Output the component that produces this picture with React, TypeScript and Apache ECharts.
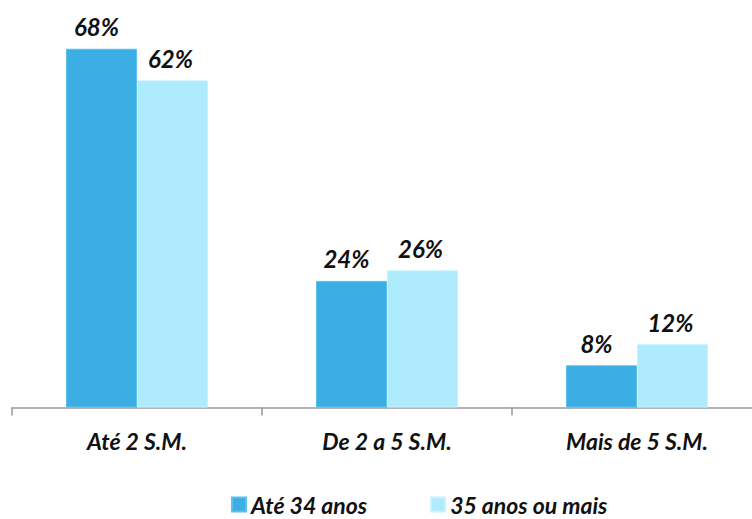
import React, { useEffect, useRef } from "react";
import * as echarts from "echarts";

const categories = ["Até 2 S.M.", "De 2 a 5 S.M.", "Mais de 5 S.M."];
const seriesNames = ["Até 34 anos", "35 anos ou mais"];
const young = [68, 24, 8];
const older = [62, 26, 12];
const colors = ["#3BAEE4", "#AEEBFC"];

export default function App() {
  const ref = useRef<HTMLDivElement>(null);
  useEffect(() => {
    const chart = echarts.init(ref.current!, null, { renderer: "svg" });
    const font = "Lato, 'Open Sans', sans-serif";
    const makeLabel = (dx: number) => ({
      show: true,
      position: "top" as const,
      distance: 10,
      offset: [dx, 0],
      formatter: "{c}%",
      fontFamily: font,
      fontStyle: "italic" as const,
      fontWeight: "bold" as const,
      fontSize: 24,
      color: "#111",
    });
    chart.setOption({
      animation: false,
      grid: { left: 12, width: 750, top: 38.2, bottom: 111.5, outerBoundsMode: "none" },
      legend: {
        bottom: 3,
        left: 231,
        padding: 0,
        itemWidth: 14,
        itemHeight: 14,
        itemGap: 63,
        icon: "rect",
        textStyle: {
          fontFamily: font,
          fontStyle: "italic",
          fontWeight: "bold",
          fontSize: 23,
          color: "#111",
        },
        data: seriesNames,
      },
      xAxis: {
        type: "category",
        data: categories,
        axisLine: { lineStyle: { color: "#999", width: 1.5 } },
        axisTick: { show: true, length: 8, lineStyle: { color: "#999", width: 1.5 } },
        axisLabel: {
          margin: 22,
          fontFamily: font,
          fontStyle: "italic",
          fontWeight: "bold",
          fontSize: 23,
          color: "#111",
        },
      },
      yAxis: { type: "value", min: 0, max: 70, show: false, splitLine: { show: false } },
      series: [
        {
          name: seriesNames[0],
          type: "bar",
          data: young,
          barWidth: 71,
          barGap: "0%",
          itemStyle: { color: colors[0], borderColor: "#5BC0EC", borderWidth: 1 },
          label: makeLabel(-5),
        },
        {
          name: seriesNames[1],
          type: "bar",
          data: older,
          barWidth: 71,
          barGap: "0%",
          itemStyle: { color: colors[1], borderColor: "#C8F2FD", borderWidth: 1 },
          label: makeLabel(-2),
        },
      ],
    });
    return () => chart.dispose();
  }, []);
  return (
    <div
      ref={ref}
      style={{ position: "absolute", left: 0, top: 0, width: 752, height: 519 }}
    />
  );
}
